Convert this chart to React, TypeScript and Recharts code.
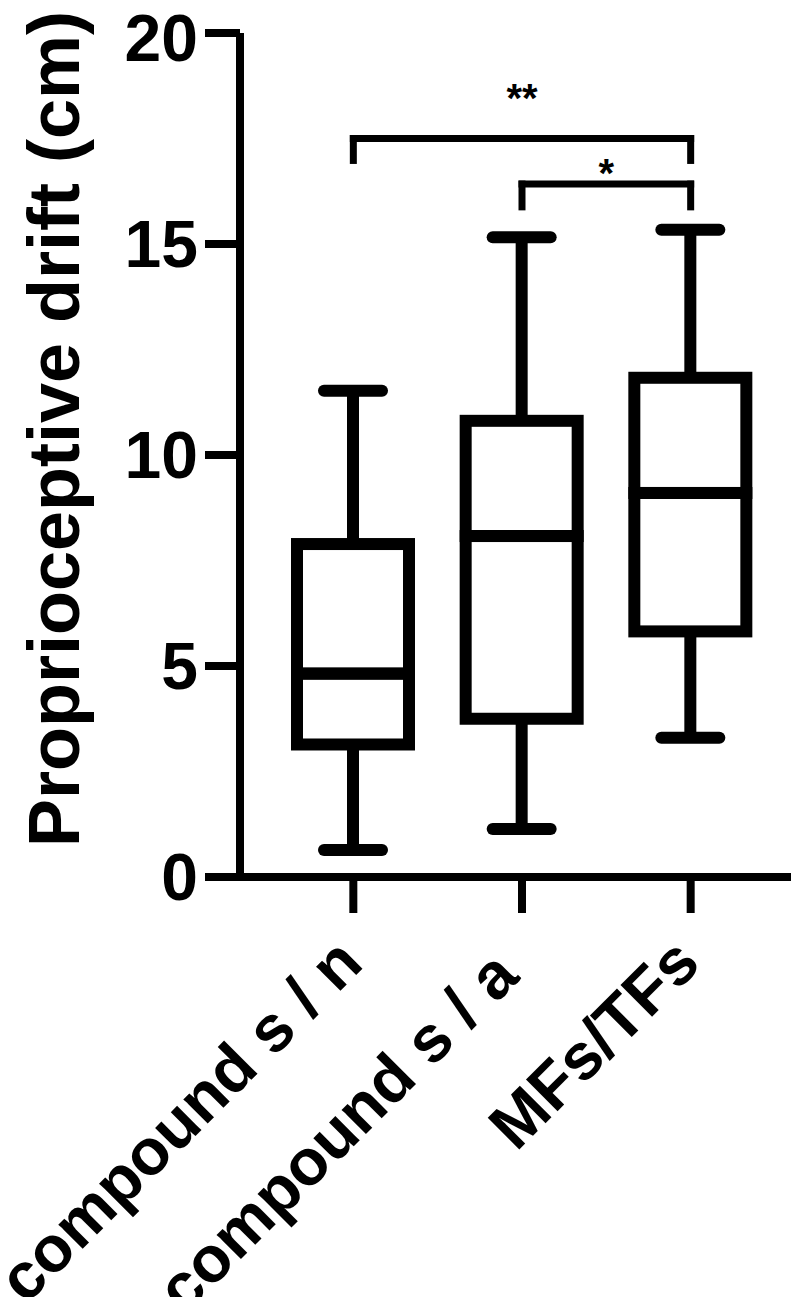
import { ComposedChart, Bar, XAxis, YAxis, ReferenceLine } from "recharts"

const groups = ["compound s / n", "compound s / a ", "MFs/TFs"]
const mins = [0.64, 1.14, 3.3]
const q1s = [3.14, 3.75, 5.82]
const medians = [4.82, 8.08, 9.1]
const q3s = [7.89, 10.81, 11.83]
const maxs = [11.52, 15.16, 15.34]
const yTicks = [0, 5, 10, 15, 20]

// significance brackets: [from, to], bar height, leg end, stars
const bracketPairs = [
  [groups[0], groups[2]],
  [groups[1], groups[2]],
]
const bracketTops = [17.5, 16.42]
const bracketLegs = [16.98, 15.88]
const bracketMarks = ["**", "*"]

const FONT = '"Liberation Sans", Arial, sans-serif'
const INK = "#000"

const data = groups.map((name, i) => ({
  name,
  base: mins[i],
  lowWhisker: q1s[i] - mins[i],
  lowBox: medians[i] - q1s[i],
  highBox: q3s[i] - medians[i],
  highWhisker: maxs[i] - q3s[i],
}))

const Empty = () => <g />

const Whisker = ({ x, y, width, height, capAt }: any) => {
  const cx = x + width / 2
  const cy = capAt === "bottom" ? y + height : y
  return (
    <g>
      <line x1={cx} x2={cx} y1={y} y2={y + height} stroke={INK} strokeWidth={12} />
      <line x1={cx - 29} x2={cx + 29} y1={cy} y2={cy} stroke={INK} strokeWidth={12} strokeLinecap="round" />
    </g>
  )
}

const BoxHalf = ({ x, y, width, height }: any) => (
  <rect x={x} y={y} width={width} height={height} fill="none" stroke={INK} strokeWidth={12} />
)

const GroupTick = ({ x, y, payload }: any) => {
  const ax = x + 12
  const ay = y + 51
  return (
    <text
      x={ax}
      y={ay}
      transform={`rotate(-45, ${ax}, ${ay})`}
      textAnchor="end"
      fontSize={65}
      fontWeight="bold"
      fontFamily={FONT}
      fill={INK}
      style={{ whiteSpace: "pre" }}
    >
      {payload.value}
    </text>
  )
}

const YTitle = ({ viewBox }: any) => {
  const cx = 79
  const cy = viewBox.y + viewBox.height / 2 - 26
  return (
    <text
      x={cx}
      y={cy}
      transform={`rotate(-90, ${cx}, ${cy})`}
      textAnchor="middle"
      fontSize={72}
      fontWeight="bold"
      fontFamily={FONT}
      fill={INK}
    >
      Proprioceptive drift (cm)
    </text>
  )
}

const Stars = ({ viewBox, mark, lift }: any) => (
  <text
    x={viewBox.x + viewBox.width / 2}
    y={viewBox.y - lift}
    textAnchor="middle"
    fontSize={40}
    fontWeight="bold"
    fontFamily={FONT}
    fill={INK}
  >
    {mark}
  </text>
)

const starLift = [27, -3]

export default function App() {
  return (
    <div style={{ position: "absolute", left: 0, top: 0, width: 791, height: 1297, background: "#fff" }}>
      <ComposedChart
        width={791}
        height={1297}
        data={data}
        margin={{ top: 33, right: 0, bottom: 0, left: 0 }}
      >
        <XAxis
          dataKey="name"
          type="category"
          interval={0}
          height={420}
          padding={{ left: 29, right: 16 }}
          axisLine={{ stroke: INK, strokeWidth: 8 }}
          tickLine={{ stroke: INK, strokeWidth: 8 }}
          tickSize={36}
          tick={<GroupTick />}
        />
        <YAxis
          type="number"
          domain={[0, 20]}
          ticks={yTicks}
          width={240}
          axisLine={{ stroke: INK, strokeWidth: 8 }}
          tickLine={{ stroke: INK, strokeWidth: 8 }}
          tickSize={35}
          tickMargin={7}
          tick={{ fill: INK, fontSize: 66, fontWeight: "bold", fontFamily: FONT }}
          label={<YTitle />}
        />
        <Bar dataKey="base" stackId="box" barSize={112} shape={<Empty />} isAnimationActive={false} />
        <Bar dataKey="lowWhisker" stackId="box" barSize={112} shape={<Whisker capAt="bottom" />} isAnimationActive={false} />
        <Bar dataKey="lowBox" stackId="box" barSize={112} shape={<BoxHalf />} isAnimationActive={false} />
        <Bar dataKey="highBox" stackId="box" barSize={112} shape={<BoxHalf />} isAnimationActive={false} />
        <Bar dataKey="highWhisker" stackId="box" barSize={112} shape={<Whisker capAt="top" />} isAnimationActive={false} />
        {bracketPairs.map(([from, to], i) => [
          <ReferenceLine
            key={`l${i}`}
            segment={[{ x: from, y: bracketLegs[i] }, { x: from, y: bracketTops[i] }]}
            stroke={INK}
            strokeWidth={7}
            strokeLinecap="square"
          />,
          <ReferenceLine
            key={`r${i}`}
            segment={[{ x: to, y: bracketLegs[i] }, { x: to, y: bracketTops[i] }]}
            stroke={INK}
            strokeWidth={7}
            strokeLinecap="square"
          />,
          <ReferenceLine
            key={`t${i}`}
            segment={[{ x: from, y: bracketTops[i] }, { x: to, y: bracketTops[i] }]}
            stroke={INK}
            strokeWidth={7}
            strokeLinecap="square"
            label={<Stars mark={bracketMarks[i]} lift={starLift[i]} />}
          />,
        ])}
      </ComposedChart>
    </div>
  )
}
